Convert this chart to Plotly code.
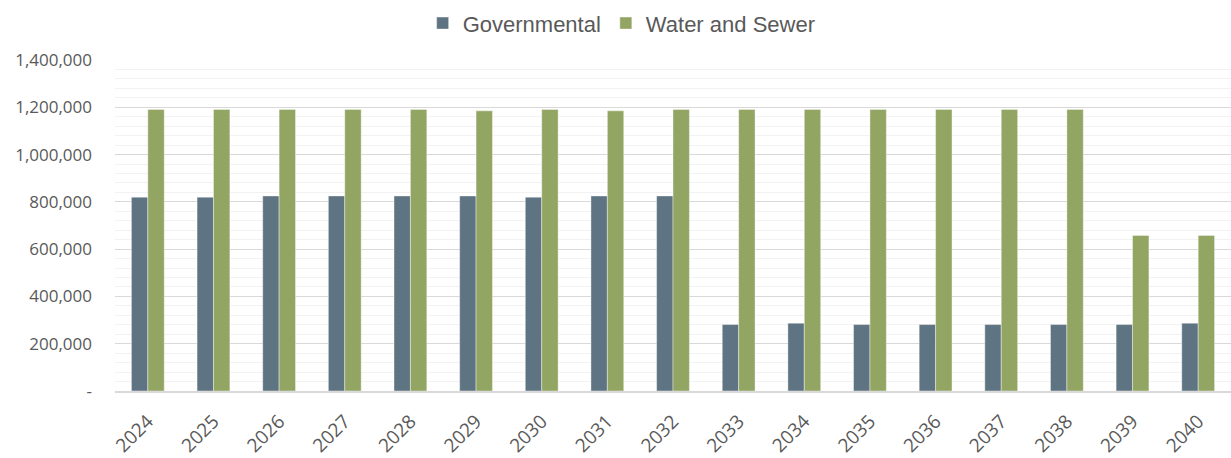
import plotly.graph_objects as go

years = [str(y) for y in range(2024, 2041)]
governmental = [820000, 820000, 825000, 825000, 825000, 825000, 820000, 825000, 825000,
                281000, 287000, 281000, 281000, 281000, 281000, 281000, 287000]
water_sewer = [1191000, 1191000, 1191000, 1191000, 1191000, 1185000, 1191000, 1185000, 1191000,
               1191000, 1191000, 1191000, 1191000, 1191000, 1191000, 658000, 658000]
y_tickvals = [0, 200000, 400000, 600000, 800000, 1000000, 1200000, 1400000]
y_ticktext = ["-", "200,000", "400,000", "600,000", "800,000", "1,000,000", "1,200,000", "1,400,000"]

fig = go.Figure()
fig.add_trace(go.Bar(name="Governmental", x=years, y=governmental,
                     marker=dict(color="#5F7482", line=dict(color="rgba(255,255,255,0.5)", width=0.8))))
fig.add_trace(go.Bar(name="Water and Sewer", x=years, y=water_sewer,
                     marker=dict(color="#93A563", line=dict(color="rgba(255,255,255,0.5)", width=0.8))))

fig.update_layout(
    width=1231, height=458,
    margin=dict(l=115, r=0, t=60, b=67),
    paper_bgcolor="white", plot_bgcolor="white",
    barmode="group", bargap=0.5, bargroupgap=0,
    showlegend=True,
    legend=dict(orientation="h", xref="container", yref="container", x=0.505, y=0.995,
                xanchor="center", yanchor="top",
                font=dict(family="Liberation Sans", size=22, color="#595959"),
                itemwidth=30, traceorder="normal"),
    xaxis=dict(type="category", tickangle=-45, automargin=False,
               tickfont=dict(family="Open Sans", size=19, color="#595959"),
               showgrid=False, showline=True, linecolor="#d9d9d9", linewidth=1.5,
               ticks="", zeroline=False, ticklabelstandoff=10),
    yaxis=dict(range=[0, 1400000], tickvals=y_tickvals, ticktext=y_ticktext, automargin=False,
               tickfont=dict(family="Open Sans", size=17, color="#595959"),
               showgrid=True, gridcolor="#d9d9d9", gridwidth=1.2, zeroline=False,
               ticks="", ticklabelstandoff=22,
               minor=dict(dtick=40000, tick0=0, showgrid=True, gridcolor="#f2f2f2", gridwidth=1.2)),
)
fig.write_html("out.html")
